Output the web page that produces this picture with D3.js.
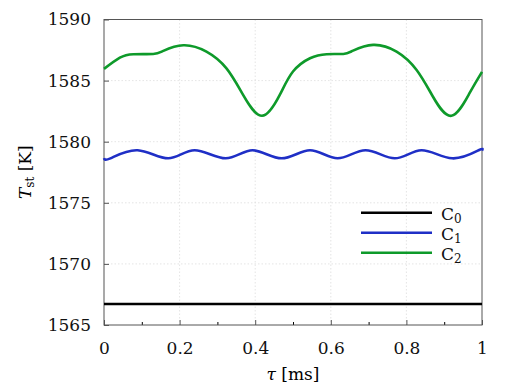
<!DOCTYPE html>
<html>
<head>
<meta charset="utf-8">
<script src="https://cdn.jsdelivr.net/npm/d3@7"></script>
<style>
  body { margin: 0; background: #fff; }
</style>
</head>
<body>
<div id="chart"></div>
<script>
// tau [ms] and T_st [K]
const tauC0 = [0, 1];
const tempC0 = [1566.72, 1566.72];

const tauC1 = [0, 0.017, 0.089, 0.170, 0.240, 0.322, 0.393, 0.470, 0.545, 0.618, 0.692, 0.769, 0.840, 0.921, 0.991, 1];
const tempC1 = [1578.66, 1578.64, 1579.30, 1578.64, 1579.30, 1578.64, 1579.30, 1578.64, 1579.30, 1578.64, 1579.30, 1578.64, 1579.30, 1578.64, 1579.30, 1579.28];

const tauC2 = [0, 0.042, 0.078, 0.13, 0.157, 0.21, 0.271, 0.324, 0.368, 0.418, 0.465, 0.5,
               0.545, 0.589, 0.633, 0.659, 0.712, 0.774, 0.827, 0.87, 0.919, 0.967, 1];
const tempC2 = [1585.96, 1586.88, 1587.16, 1587.18, 1587.43, 1587.89, 1587.37, 1586.0, 1583.83, 1582.12, 1583.83, 1585.74,
                1586.83, 1587.16, 1587.18, 1587.45, 1587.92, 1587.37, 1585.87, 1583.7, 1582.12, 1583.97, 1585.72];

const seriesNames = ["0", "1", "2"];
const seriesColors = ["#000000", "#1f2fc6", "#0e9a2a"];

const xTicks = [0, 0.2, 0.4, 0.6, 0.8, 1];
const xMinorTicks = [0.1, 0.3, 0.5, 0.7, 0.9];
const yTicks = [1565, 1570, 1575, 1580, 1585, 1590];

const width = 518, height = 389;
const margin = {left: 104, right: 36, top: 19.5, bottom: 64};
const w = width - margin.left - margin.right;
const h = height - margin.top - margin.bottom;
const font = "'DejaVu Serif', serif";
const fs = 17;

const series = [
  tauC0.map((t, i) => [t, tempC0[i]]),
  tauC1.map((t, i) => [t, tempC1[i]]),
  tauC2.map((t, i) => [t, tempC2[i]])
];

const svg = d3.select("#chart").append("svg")
    .attr("width", width)
    .attr("height", height)
    .attr("font-family", font);

const g = svg.append("g")
    .attr("transform", "translate(" + margin.left + "," + margin.top + ")");

const x = d3.scaleLinear().domain([0, 1]).range([0, w]);
const y = d3.scaleLinear().domain([1565, 1590]).range([h, 0]);

// grid
g.append("g").selectAll("line").data(xTicks.slice(1, -1)).join("line")
    .attr("x1", d => x(d)).attr("x2", d => x(d))
    .attr("y1", 0).attr("y2", h)
    .attr("stroke", "#dddddd").attr("stroke-width", 0.8)
    .attr("stroke-dasharray", "1.5,2");
g.append("g").selectAll("line").data(yTicks.slice(1, -1)).join("line")
    .attr("x1", 0).attr("x2", w)
    .attr("y1", d => y(d)).attr("y2", d => y(d))
    .attr("stroke", "#dddddd").attr("stroke-width", 0.8)
    .attr("stroke-dasharray", "1.5,2");

// axes, ticks pointing inward
const xAxis = g.append("g")
    .attr("transform", "translate(0," + h + ")")
    .call(d3.axisBottom(x).tickValues(xTicks).tickSize(-5).tickPadding(17)
        .tickFormat(d3.format("")));
g.append("g")
    .attr("transform", "translate(0," + h + ")")
    .call(d3.axisBottom(x).tickValues(xMinorTicks).tickSize(-3).tickFormat(""))
    .select(".domain").remove();
const yAxis = g.append("g")
    .call(d3.axisLeft(y).tickValues(yTicks).tickSize(-5).tickPadding(13)
        .tickFormat(d3.format("d")));

[xAxis, yAxis].forEach(a => {
  a.attr("font-family", font);
  a.selectAll("text").attr("font-size", fs).attr("fill", "#111").attr("font-family", font);
  a.selectAll("line").attr("stroke", "#555");
  a.select(".domain").remove();
});

g.append("rect")
    .attr("width", w).attr("height", h)
    .attr("fill", "none")
    .attr("stroke", "#555").attr("stroke-width", 1);

const line = d3.line()
    .x(d => x(d[0]))
    .y(d => y(d[1]))
    .curve(d3.curveNatural);

g.append("g").selectAll("path").data(series).join("path")
    .attr("d", line)
    .attr("fill", "none")
    .attr("stroke", (d, i) => seriesColors[i])
    .attr("stroke-width", 2.6)
    .attr("stroke-linejoin", "round");

// legend
const legend = g.append("g").attr("transform", "translate(" + (361 - margin.left) + "," + (212.7 - margin.top) + ")");
seriesNames.forEach((n, i) => {
  const row = legend.append("g").attr("transform", "translate(0," + i * 20 + ")");
  row.append("line")
      .attr("x1", 0).attr("x2", 71)
      .attr("stroke", seriesColors[i]).attr("stroke-width", 2.6);
  const t = row.append("text")
      .attr("x", 80).attr("y", 7)
      .attr("font-size", fs).attr("fill", "#111");
  t.append("tspan").text("C");
  t.append("tspan").attr("font-size", 12).attr("dy", 3).text(n);
});

// axis labels
svg.append("text")
    .attr("x", margin.left + w / 2).attr("y", 380)
    .attr("text-anchor", "middle")
    .attr("font-size", fs)
    .call(t => {
      t.append("tspan").attr("font-style", "italic").text("τ");
      t.append("tspan").text(" [ms]");
    });

svg.append("text")
    .attr("transform", "translate(31," + (margin.top + h / 2) + ") rotate(-90)")
    .attr("text-anchor", "middle")
    .attr("font-size", fs)
    .call(t => {
      t.append("tspan").attr("font-style", "italic").text("T");
      t.append("tspan").attr("font-size", 12).attr("dy", 3).text("st");
      t.append("tspan").attr("dy", -3).text(" [K]");
    });
</script>
</body>
</html>
